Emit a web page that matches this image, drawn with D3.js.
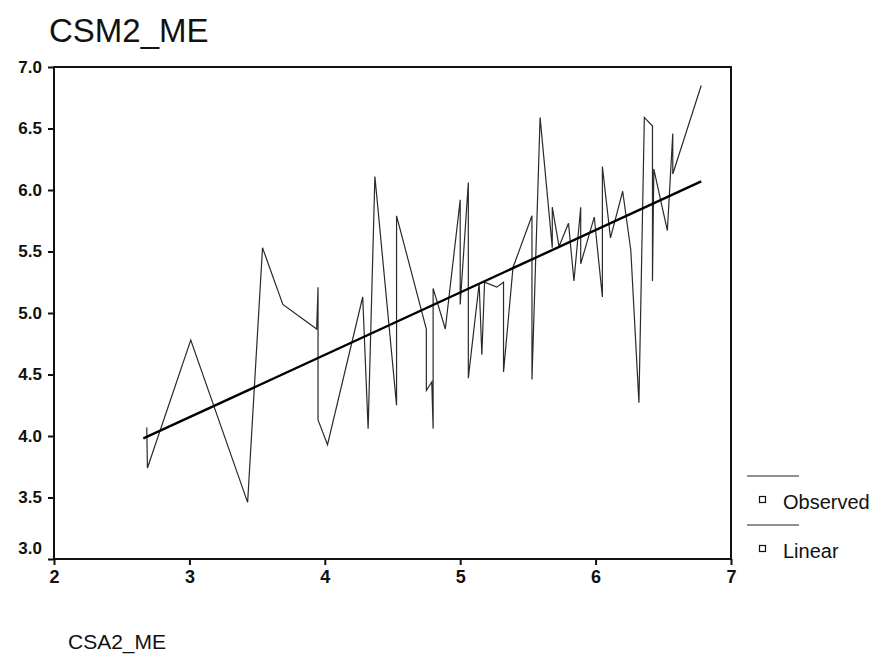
<!DOCTYPE html>
<html>
<head>
<meta charset="utf-8">
<script src="https://cdn.jsdelivr.net/npm/d3@7"></script>
<style>
  body { margin: 0; background: #fff; }
  text { font-family: "Liberation Sans", Arial, sans-serif; fill: #111; }
</style>
</head>
<body>
<div id="chart"></div>
<script>
const obsX = [2.685, 2.69, 3.01, 3.43, 3.54, 3.69, 3.94, 3.95, 3.95, 4.02,
    4.28, 4.32, 4.37, 4.53, 4.53, 4.75, 4.75, 4.79, 4.80, 4.80,
    4.89, 5.00, 5.00, 5.06, 5.06, 5.14, 5.16, 5.18, 5.27, 5.32,
    5.32, 5.39, 5.53, 5.53, 5.59, 5.68, 5.68, 5.73, 5.80, 5.84,
    5.89, 5.89, 5.99, 6.05, 6.05, 6.11, 6.20, 6.26, 6.32, 6.36,
    6.42, 6.42, 6.43, 6.53, 6.57, 6.57, 6.78];
const obsY = [4.07, 3.74, 4.78, 3.46, 5.53, 5.07, 4.87, 5.21, 4.13, 3.93,
    5.13, 4.06, 6.11, 4.25, 5.79, 4.87, 4.37, 4.44, 4.06, 5.20,
    4.87, 5.92, 5.07, 6.06, 4.47, 5.24, 4.66, 5.25, 5.21, 5.25,
    4.52, 5.37, 5.79, 4.46, 6.59, 5.53, 5.86, 5.54, 5.73, 5.26,
    5.86, 5.40, 5.78, 5.13, 6.19, 5.61, 5.99, 5.51, 4.27, 6.59,
    6.52, 5.26, 6.17, 5.67, 6.46, 6.13, 6.85];

// linear fit, end points
const linX = [2.66, 6.78];
const linY = [3.98, 6.07];

const xTicks = [2, 3, 4, 5, 6, 7];
const yTicks = [3.0, 3.5, 4.0, 4.5, 5.0, 5.5, 6.0, 6.5, 7.0];
const legendLabels = ['Observed', 'Linear'];

const W = 872, H = 657;
const margin = { top: 67, right: 141, bottom: 98, left: 54 };
const width = W - margin.left - margin.right;
const height = H - margin.top - margin.bottom;

const root = d3.select('#chart')
    .append('svg')
    .attr('width', W)
    .attr('height', H);

root.append('text')
    .attr('x', 49)
    .attr('y', 42)
    .style('font-size', '33px')
    .text('CSM2_ME');

root.append('text')
    .attr('x', 68)
    .attr('y', 649)
    .style('font-size', '21px')
    .text('CSA2_ME');

const svg = root.append('g')
    .attr('transform', `translate(${margin.left},${margin.top})`);

const x = d3.scaleLinear().domain([2, 7]).range([0, width]);
const y = d3.scaleLinear().domain([3, 7]).range([height, 0]);

// frame
svg.append('rect')
    .attr('width', width)
    .attr('height', height)
    .attr('fill', 'none')
    .attr('stroke', '#111')
    .attr('stroke-width', 2);

svg.append('g')
    .attr('transform', `translate(0, ${height})`)
    .call(d3.axisBottom(x).tickValues(xTicks).tickFormat(d3.format('d')).tickSize(6).tickPadding(5))
    .call(g => g.select('.domain').remove())
    .call(g => g.selectAll('line').attr('stroke', '#111').attr('stroke-width', 2))
    .call(g => g.selectAll('text')
        .style('font-size', '18px')
        .style('font-weight', 'bold')
        .attr('fill', '#111'));

svg.append('g')
    .call(d3.axisLeft(y).tickValues(yTicks).tickFormat(d3.format('.1f')).tickSize(6).tickPadding(6))
    .call(g => g.select('.domain').remove())
    .call(g => g.selectAll('line').attr('stroke', '#111').attr('stroke-width', 2))
    .call(g => g.selectAll('text')
        .style('font-size', '17px')
        .style('font-weight', 'bold')
        .attr('fill', '#111'))
    // the bottom label sits a little above its tick in the original
    .call(g => g.selectAll('.tick').filter(d => d === 3).select('text').attr('dy', '-0.3em'));

const observed = obsX.map((v, i) => ({ x: v, y: obsY[i] }));
const linear = linX.map((v, i) => ({ x: v, y: linY[i] }));

const line = d3.line()
    .x(d => x(d.x))
    .y(d => y(d.y));

svg.append('path')
    .datum(observed)
    .attr('fill', 'none')
    .attr('stroke', '#2a2a2a')
    .attr('stroke-width', 1.2)
    .attr('d', line);

svg.append('path')
    .datum(linear)
    .attr('fill', 'none')
    .attr('stroke', '#000')
    .attr('stroke-width', 2.4)
    .attr('d', line);

// legend
const legend = root.append('g')
    .attr('transform', 'translate(747, 476)');

const item = legend.selectAll('.item')
    .data(legendLabels)
    .join('g')
    .attr('class', 'item')
    .attr('transform', (d, i) => `translate(0, ${i * 49})`);

item.append('line')
    .attr('x1', 0)
    .attr('x2', 52)
    .attr('stroke', '#222')
    .attr('stroke-width', 1.2);

item.append('rect')
    .attr('x', 12.5)
    .attr('y', 20.5)
    .attr('width', 6)
    .attr('height', 6)
    .attr('fill', '#fff')
    .attr('stroke', '#111')
    .attr('stroke-width', 1.2);

item.append('text')
    .attr('x', 36)
    .attr('y', 33)
    .style('font-size', '20px')
    .text(d => d);
</script>
</body>
</html>
